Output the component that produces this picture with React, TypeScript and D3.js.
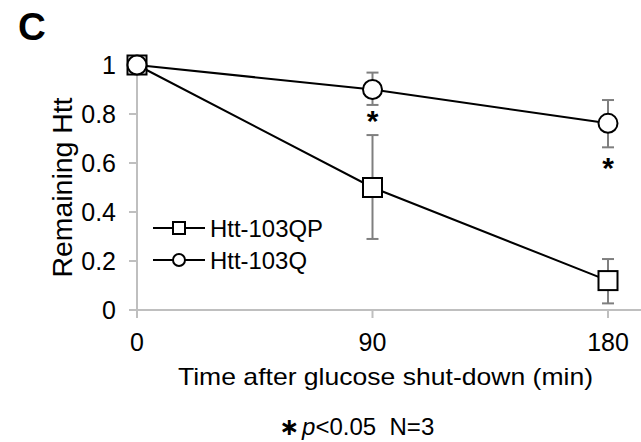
import React from "react";
import * as d3 from "d3";

const times = [0, 90, 180];
const seriesNames = ["Htt-103QP", "Htt-103Q"];
const qpMean = [1, 0.5, 0.12];
const qpUpper = [1, 0.714, 0.208];
const qpLower = [1, 0.29, 0.027];
const qMean = [1, 0.9, 0.762];
const qUpper = [1, 0.969, 0.857];
const qLower = [1, 0.837, 0.664];
const yTicks = [0, 0.2, 0.4, 0.6, 0.8, 1];
const xTicks = [0, 90, 180];
const sigPoints = [
  { t: 90, v: 0.795 },
  { t: 180, v: 0.605 },
];

const W = 641;
const H = 442;
const FONT = "'Liberation Sans', Arial, Helvetica, sans-serif";

export default function App() {
  const x = d3.scaleLinear().domain([0, 180]).range([137, 608]);
  const y = d3.scaleLinear().domain([0, 1]).range([310, 65]);
  const line = d3
    .line<[number, number]>()
    .x((d) => x(d[0]))
    .y((d) => y(d[1]));

  const qpPts: [number, number][] = times.map((t, i) => [t, qpMean[i]]);
  const qPts: [number, number][] = times.map((t, i) => [t, qMean[i]]);

  const axisColor = "#bfbfbf";
  const errColor = "#7f7f7f";
  const fs = 24;
  const tfs = 25;

  const errBars = (upper: number[], lower: number[], key: string) =>
    times.map((t, i) =>
      upper[i] === lower[i] ? null : (
        <g key={key + i} stroke={errColor} strokeWidth={2}>
          <line x1={x(t)} x2={x(t)} y1={y(upper[i])} y2={y(lower[i])} />
          <line x1={x(t) - 6} x2={x(t) + 6} y1={y(upper[i])} y2={y(upper[i])} />
          <line x1={x(t) - 6} x2={x(t) + 6} y1={y(lower[i])} y2={y(lower[i])} />
        </g>
      )
    );

  const ms = 19;
  const lx0 = 153;
  const lx1 = 205;
  const lmx = 179;
  const rows = [228, 260];

  return (
    <svg
      width={W}
      height={H}
      style={{ position: "absolute", left: 0, top: 0, background: "#fff" }}
      fontFamily={FONT}
    >
      <rect width={W} height={H} fill="#fff" />
      <text x={18} y={39.5} fontSize={38.5} fontWeight="bold" fill="#000">
        C
      </text>

      {/* axes */}
      <line x1={x(0)} x2={x(0)} y1={y(1)} y2={318} stroke={axisColor} strokeWidth={2} />
      <line x1={129} x2={W} y1={y(0)} y2={y(0)} stroke={axisColor} strokeWidth={2} />
      {yTicks.map((v) => (
        <g key={"yt" + v}>
          <line x1={129} x2={x(0)} y1={y(v)} y2={y(v)} stroke={axisColor} strokeWidth={2} />
          <text
            x={116}
            y={y(v) + 8.8}
            fontSize={tfs}
            textAnchor="end"
            fill="#000"
          >
            {String(v)}
          </text>
        </g>
      ))}
      {xTicks.map((t) => (
        <g key={"xt" + t}>
          <line x1={x(t)} x2={x(t)} y1={y(0)} y2={318} stroke={axisColor} strokeWidth={2} />
          <text x={x(t)} y={351} fontSize={tfs} textAnchor="middle" fill="#000">
            {String(t)}
          </text>
        </g>
      ))}

      <text
        x={385.5}
        y={385}
        fontSize={fs}
        textAnchor="middle"
        fill="#000"
        textLength={415}
        lengthAdjust="spacingAndGlyphs"
      >
        Time after glucose shut-down (min)
      </text>
      <text
        transform={`translate(72,187.5) rotate(-90)`}
        fontSize={27}
        textAnchor="middle"
        fill="#000"
        textLength={180}
        lengthAdjust="spacingAndGlyphs"
      >
        Remaining Htt
      </text>

      {/* error bars */}
      {errBars(qpUpper, qpLower, "qp")}
      {errBars(qUpper, qLower, "q")}

      {/* lines */}
      <path d={line(qpPts) || ""} fill="none" stroke="#000" strokeWidth={2} />
      <path d={line(qPts) || ""} fill="none" stroke="#000" strokeWidth={2} />

      {/* markers */}
      {qpPts.map((p, i) => (
        <rect
          key={"qpm" + i}
          x={x(p[0]) - ms / 2}
          y={y(p[1]) - ms / 2}
          width={ms}
          height={ms}
          fill="#fff"
          stroke="#000"
          strokeWidth={2}
        />
      ))}
      {qPts.map((p, i) => (
        <circle
          key={"qm" + i}
          cx={x(p[0])}
          cy={y(p[1])}
          r={ms / 2}
          fill="#fff"
          stroke="#000"
          strokeWidth={2}
        />
      ))}

      {/* significance */}
      {sigPoints.map((s, i) => (
        <text
          key={"sig" + i}
          x={x(s.t)}
          y={y(s.v) + 16}
          fontSize={30}
          fontWeight="bold"
          textAnchor="middle"
          fill="#000"
        >
          *
        </text>
      ))}

      {/* legend */}
      {seriesNames.map((name, i) => (
        <g key={"lg" + i}>
          <line x1={lx0} x2={lx1} y1={rows[i]} y2={rows[i]} stroke="#000" strokeWidth={2} />
          {i === 0 ? (
            <rect x={lmx - 6} y={rows[i] - 6} width={12} height={12} fill="#fff" stroke="#000" strokeWidth={2} />
          ) : (
            <circle cx={lmx} cy={rows[i]} r={6} fill="#fff" stroke="#000" strokeWidth={2} />
          )}
          <text
            x={210}
            y={rows[i] + 8.6}
            fontSize={fs}
            fill="#000"
            textLength={i === 0 ? 113 : 97}
            lengthAdjust="spacingAndGlyphs"
          >
            {name}
          </text>
        </g>
      ))}

      {/* footnote */}
      <text x={279} y={435} fontSize={fs} fill="#000">
        <tspan fontFamily="'DejaVu Sans', sans-serif" fontSize={24} fontWeight="bold">{"\u2217"}</tspan>
        <tspan dx={3} fontStyle="italic">p</tspan>
        <tspan>{"<0.05\u00a0\u00a0N=3"}</tspan>
      </text>
    </svg>
  );
}
